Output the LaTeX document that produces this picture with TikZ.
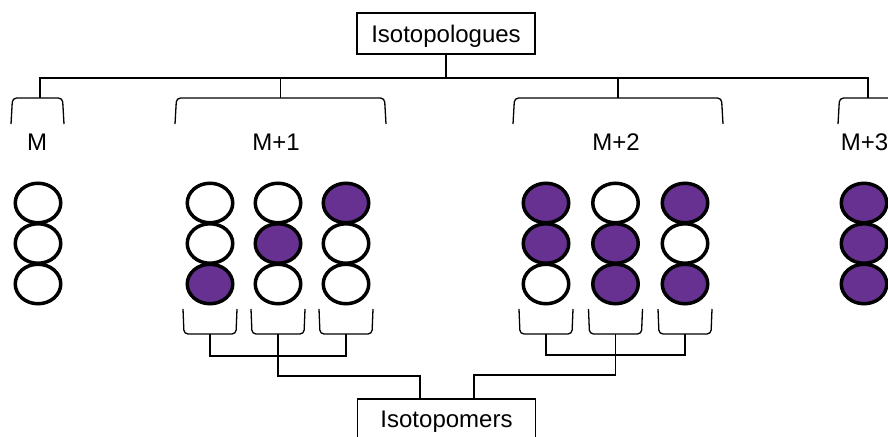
\documentclass[tikz,border=0pt]{standalone}
\usepackage{fontspec}
\setmainfont{Liberation Sans}
\usetikzlibrary{shapes.geometric,calc}
\definecolor{isopurple}{RGB}{102,49,145}
\colorlet{o}{white}
\colorlet{f}{isopurple}
\begin{document}
\begin{tikzpicture}[x=1pt,y=-1pt,
  lbl/.style={font=\fontsize{24}{28}\selectfont, inner sep=0pt},
  namebox/.style={draw, line width=1.3pt, minimum width=178pt, minimum height=41pt,
    inner sep=0pt, text depth=0pt, lbl},
  atom/.style={ellipse, draw, line width=3.5pt, minimum width=45.5pt,
    minimum height=39.5pt, inner sep=0pt, outer sep=0pt, fill=#1},
  link/.style={line width=1.3pt},
  brace/.style={line width=1.3pt, rounded corners=4pt},
]
\useasboundingbox (0,0) rectangle (888,436);
\clip (0,0) rectangle (888,436);

% category boxes
\node[namebox] (iso) at (446,33.5) {Isotopologues};
\node[namebox] (ipm) at (446.5,419.5) {Isotopomers};

% mass-shift labels
\node[lbl] (lM)  at (37,142.5)  {M};
\node[lbl] (lM1) at (276,142.5) {M+1};
\node[lbl] (lM2) at (616,142.5) {M+2};
\node[lbl] (lM3) at (864.5,142.5) {M+3};

% isotopologue brackets
\foreach \l/\r in {11/64, 175/386, 513/723, 838/898}{
  \draw[brace] (\l,124) -- ({\l+1.5},98) -- ({\r-1.5},98) -- (\r,124);
}
\coordinate (bM) at (40,98);
\coordinate (b1) at (280.5,98);
\coordinate (b2) at (618,98);
\coordinate (b3) at (868,98);
\coordinate (bar) at (446,78);

\draw[link] (iso.south) -- (bar);
\draw[link] (bM) |- (b3 |- bar) -- (b3);
\draw[link] (b1) -- (b1 |- bar);
\draw[link] (b2) -- (b2 |- bar);

% carbon columns: o = unlabeled, f = labeled
\foreach \x/\n/\a/\b/\c in {38/m/o/o/o,
    210/pa/o/o/f, 278/pb/o/f/o, 346/pc/f/o/o,
    546/qa/f/f/o, 615.5/qb/o/f/f, 685/qc/f/o/f,
    864/r/f/f/f}{
  \node[atom=\a] (\n-1) at (\x,203) {};
  \node[atom=\b] (\n-2) at (\x,243.5) {};
  \node[atom=\c] (\n-3) at (\x,284) {};
}

% isotopomer brackets
\foreach \x/\n in {210/pa, 278/pb, 346/pc, 546/qa, 615.5/qb, 685/qc}{
  \draw[brace] ({\x-27},309) -- ({\x-26},334) -- ({\x+26},334) -- ({\x+27},309);
  \coordinate (\n-foot) at (\x,334);
}
\coordinate (ja) at (278,356);
\coordinate (jb) at (615.5,355);
\coordinate (jl) at (420,376);
\coordinate (jr) at (474,375);

\draw[link] (pa-foot) |- (pc-foot |- ja) -- (pc-foot);
\draw[link] (pb-foot) |- (jl) -- (jl |- ipm.north);
\draw[link] (qa-foot) |- (qc-foot |- jb) -- (qc-foot);
\draw[link] (qb-foot) |- (jr) -- (jr |- ipm.north);
\end{tikzpicture}
\end{document}
